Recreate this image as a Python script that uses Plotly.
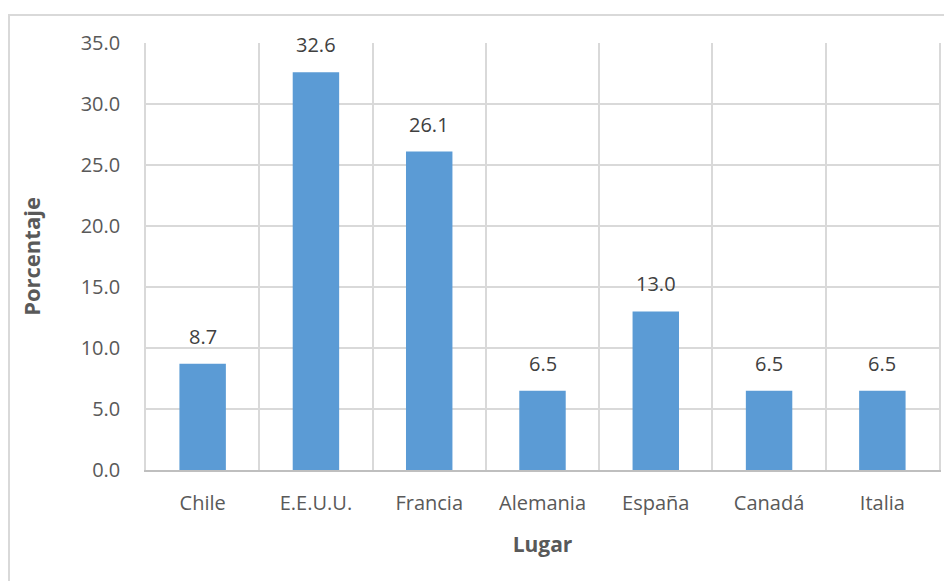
import plotly.graph_objects as go

categories = ["Chile", "E.E.U.U.", "Francia", "Alemania", "España", "Canadá", "Italia"]
values = [8.7, 32.6, 26.1, 6.5, 13.0, 6.5, 6.5]
y_title = "Porcentaje"
x_title = "Lugar"

FONT = "Open Sans"
TXT = "#595959"
GRID = "#d9d9d9"

fig = go.Figure()
fig.add_trace(go.Bar(
    x=categories, y=values,
    marker=dict(color="#5b9bd5", line=dict(width=0)),
    hoverinfo="x+y",
))

for c, v in zip(categories, values):
    fig.add_annotation(
        x=c, y=v, text=f"{v:.1f}", showarrow=False,
        yanchor="bottom", yshift=12,
        font=dict(family=FONT, size=20, color="#404040"),
    )

# page body has an 8px margin, so the figure is offset by 8px
W, H = 944, 573
L, R, T, B = 138, 13, 35, 111
pw, ph = W - L - R, H - T - B

fig.add_shape(
    type="rect", xref="paper", yref="paper",
    x0=(1 - L) / pw, x1=(W + 20 - L) / pw,
    y0=-(H + 20 - T - ph) / ph, y1=(H - B - 7) / ph,
    line=dict(color=GRID, width=2), fillcolor="rgba(0,0,0,0)", layer="below",
)

fig.update_layout(
    width=W, height=H,
    margin=dict(l=L, r=R, t=T, b=B, autoexpand=False),
    paper_bgcolor="white", plot_bgcolor="white",
    bargap=0.59, showlegend=False,
    font=dict(family=FONT, size=20, color=TXT),
    xaxis=dict(
        type="category", tickson="boundaries", ticks="", automargin=False,
        showgrid=True, gridcolor=GRID, gridwidth=1.5,
        showline=True, linecolor="#bfbfbf", linewidth=2,
        ticklabelstandoff=14,
        title=dict(text=f"<b>{x_title}</b>", font=dict(size=21, color=TXT), standoff=22),
    ),
    yaxis=dict(
        range=[0, 35], dtick=5, tickformat=".1f", automargin=False,
        showgrid=True, gridcolor=GRID, gridwidth=1.5,
        showline=True, mirror=True, linecolor=GRID, linewidth=1.5,
        ticks="", ticklabelstandoff=20, zeroline=False,
        title=dict(text=f"<b>{y_title}</b>", font=dict(size=22, color=TXT), standoff=34),
    ),
)

fig.write_html("out.html")
